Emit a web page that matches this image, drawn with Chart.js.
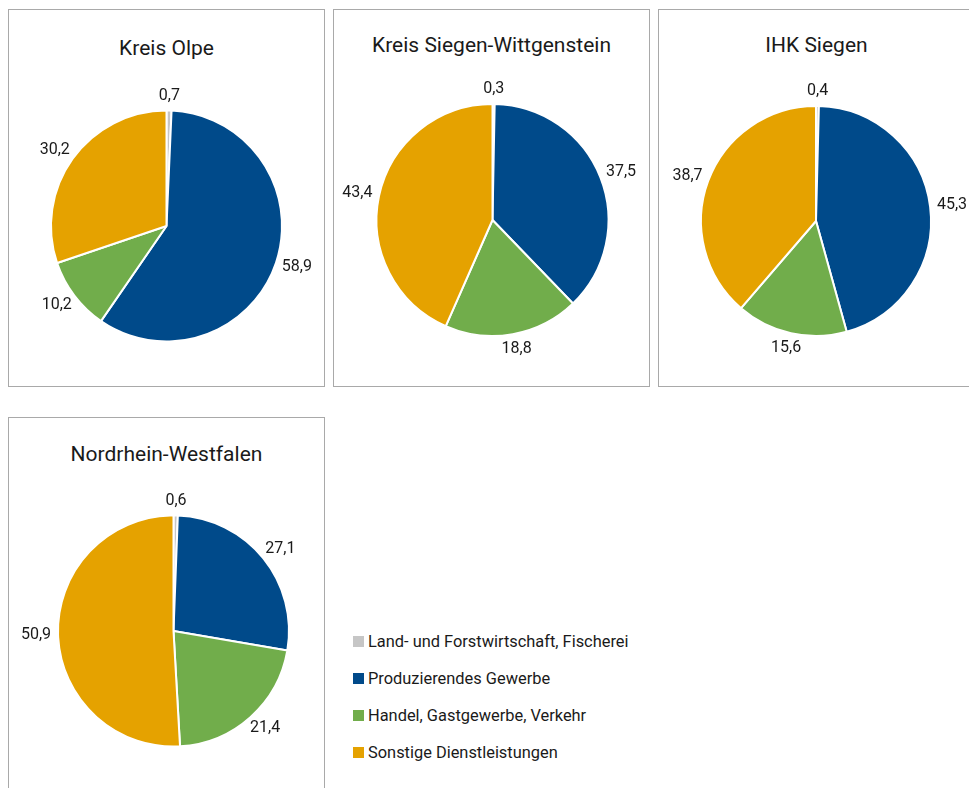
<!DOCTYPE html>
<html>
<head>
<meta charset="utf-8">
<script src="https://cdn.jsdelivr.net/npm/chart.js@4.4.0/dist/chart.umd.min.js"></script>
<style>
html, body { margin: 0; padding: 0; background: #fff; overflow: hidden; }
body { width: 969px; height: 788px; position: relative; font-family: Roboto, "Open Sans", sans-serif; color: #1a1a1a; }
.box { position: absolute; border: 1px solid #a9a9a9; width: 315px; overflow: hidden; }
.box canvas { display: block; position: absolute; left: 0; top: 0; }
.title { position: absolute; left: 0; width: 315px; text-align: center; font-size: 21px; line-height: 24px; }
#legend { position: absolute; left: 353px; top: 623px; font-size: 16.4px; }
.item { display: flex; align-items: center; height: 37px; }
.swatch { width: 11px; height: 11px; margin-right: 4px; }
</style>
</head>
<body>
<div id="charts"></div>
<div id="legend"></div>
<script>
// Wirtschaftsbereiche (Anteile in %)
const categories = ['Land- und Forstwirtschaft, Fischerei', 'Produzierendes Gewerbe', 'Handel, Gastgewerbe, Verkehr', 'Sonstige Dienstleistungen'];
const regions = ['Kreis Olpe', 'Kreis Siegen-Wittgenstein', 'IHK Siegen', 'Nordrhein-Westfalen'];
const olpe = [0.7, 58.9, 10.2, 30.2];
const siegenWittgenstein = [0.3, 37.5, 18.8, 43.4];
const ihkSiegen = [0.4, 45.3, 15.6, 38.7];
const nrw = [0.6, 27.1, 21.4, 50.9];
const colors = ['#c6c6c6', '#004a8a', '#71ad4b', '#e5a200'];

const series = [olpe, siegenWittgenstein, ihkSiegen, nrw];

// box position on page, title centre, pie centre and radius (page coords)
const layouts = [
    { left: 8,   top: 9,   h: 376, titleY: 47.5, cx: 166.5, cy: 226, r: 115.5 },
    { left: 333, top: 9,   h: 376, titleY: 45,   cx: 492.5, cy: 220, r: 116 },
    { left: 658, top: 9,   h: 376, titleY: 45,   cx: 816,   cy: 221, r: 115 },
    { left: 8,   top: 417, h: 390, titleY: 453.5, cx: 173.5, cy: 631, r: 115.5 }
];

const valueLabels = {
    id: 'valueLabels',
    afterDatasetsDraw(chart) {
        const ctx = chart.ctx;
        const meta = chart.getDatasetMeta(0);
        const values = chart.data.datasets[0].data;
        ctx.save();
        ctx.font = '16px Roboto';
        ctx.fillStyle = '#1a1a1a';
        ctx.textAlign = 'center';
        ctx.textBaseline = 'middle';
        meta.data.forEach(function (arc, i) {
            const p = arc.getProps(['x', 'y', 'startAngle', 'endAngle', 'outerRadius'], true);
            const mid = (p.startAngle + p.endAngle) / 2;
            const txt = values[i].toFixed(1).replace('.', ',');
            const w = ctx.measureText(txt).width;
            const rr = p.outerRadius + 7;
            const x = p.x + Math.cos(mid) * (rr + w / 2);
            const y = p.y + Math.sin(mid) * (rr + 8);
            ctx.fillText(txt, x, y);
        });
        ctx.restore();
    }
};

const holder = document.getElementById('charts');

layouts.forEach(function (L, k) {
    const box = document.createElement('div');
    box.className = 'box';
    box.style.left = L.left + 'px';
    box.style.top = L.top + 'px';
    box.style.height = L.h + 'px';

    const title = document.createElement('div');
    title.className = 'title';
    title.style.top = (L.titleY - L.top - 1 - 12) + 'px';
    title.textContent = regions[k];
    box.appendChild(title);

    const canvas = document.createElement('canvas');
    canvas.width = 315;
    canvas.height = L.h;
    box.appendChild(canvas);
    holder.appendChild(box);

    const cx = L.cx - L.left - 1;
    const cy = L.cy - L.top - 1;
    const half = L.r + 1;

    new Chart(canvas.getContext('2d'), {
        type: 'pie',
        data: {
            labels: categories,
            datasets: [{
                data: series[k],
                backgroundColor: colors,
                borderColor: '#ffffff',
                borderWidth: 2
            }]
        },
        options: {
            responsive: false,
            animation: false,
            layout: {
                padding: {
                    left: cx - half,
                    right: 315 - cx - half,
                    top: cy - half,
                    bottom: L.h - cy - half
                }
            },
            plugins: {
                legend: { display: false },
                tooltip: { enabled: false }
            }
        },
        plugins: [valueLabels]
    });
});

// legend
const legend = document.getElementById('legend');
categories.forEach(function (name, i) {
    const item = document.createElement('div');
    item.className = 'item';
    const sw = document.createElement('span');
    sw.className = 'swatch';
    sw.style.background = colors[i];
    const label = document.createElement('span');
    label.textContent = name;
    item.appendChild(sw);
    item.appendChild(label);
    legend.appendChild(item);
});
</script>
</body>
</html>
